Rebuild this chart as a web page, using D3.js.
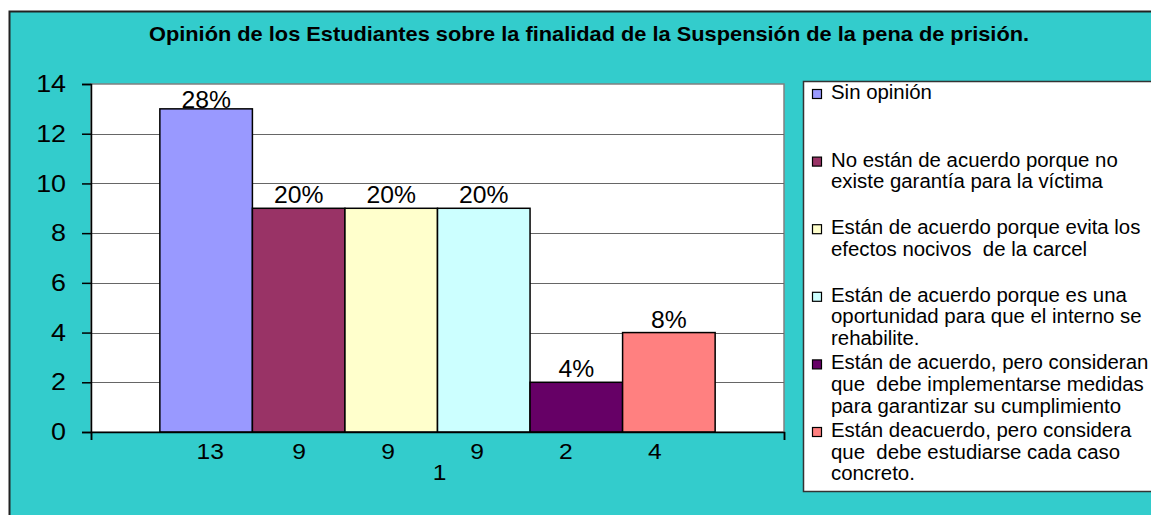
<!DOCTYPE html>
<html>
<head>
<meta charset="utf-8">
<script src="https://cdn.jsdelivr.net/npm/d3@7"></script>
<style>
  html, body { margin: 0; padding: 0; background: #ffffff; }
  svg { display: block; }
  text { font-family: "Liberation Sans", Arial, sans-serif; }
</style>
</head>
<body>
<svg id="chart" width="1151" height="515"></svg>
<script>
const title = "Opinión de los Estudiantes sobre la finalidad de la Suspensión de la pena de prisión.";
const categories = ["1"];
const seriesLabels = [
  ["Sin opinión"],
  ["No están de acuerdo porque no", "existe garantía para la víctima"],
  ["Están de acuerdo porque evita los", "efectos nocivos  de la carcel"],
  ["Están de acuerdo porque es una", "oportunidad para que el interno se", "rehabilite."],
  ["Están de acuerdo, pero consideran", "que  debe implementarse medidas", "para garantizar su cumplimiento"],
  ["Están deacuerdo, pero considera", "que  debe estudiarse cada caso", "concreto."]
];
const values = [13, 9, 9, 9, 2, 4];
const percentLabels = ["28%", "20%", "20%", "20%", "4%", "8%"];
const colors = ["#9999FF", "#993366", "#FFFFCC", "#CCFFFF", "#660066", "#FF8080"];
const yTicks = [0, 2, 4, 6, 8, 10, 12, 14];

const svg = d3.select("#chart");
const W = 1151, H = 515;
const plot = { left: 91, right: 784, top: 84, bottom: 432 };
const SX = 1.12; // horizontal stretch of the original rendering

// chart background
svg.append("rect").attr("x", 9.5).attr("y", 11.5).attr("width", W).attr("height", H)
  .attr("fill", "#33CCCC").attr("stroke", "#222").attr("stroke-width", 2);

// title
svg.append("text").attr("transform", `translate(589,41) scale(1.09,1)`).attr("text-anchor", "middle")
  .attr("font-size", 20).attr("font-weight", "bold").attr("fill", "#000").text(title);

const y = d3.scaleLinear().domain([0, 14]).range([plot.bottom, plot.top]);
const x0 = d3.scaleBand().domain(categories).range([plot.left, plot.right]).paddingInner(0).paddingOuter(0.124);
const x1 = d3.scaleBand().domain(d3.range(values.length)).range([0, x0.bandwidth()]);

// plot area
svg.append("rect").attr("x", plot.left).attr("y", plot.top)
  .attr("width", plot.right - plot.left).attr("height", plot.bottom - plot.top)
  .attr("fill", "#ffffff").attr("stroke", "#808080").attr("stroke-width", 1.5);

// gridlines
svg.append("g").selectAll("line").data(yTicks.filter(d => d > 0 && d < 14)).join("line")
  .attr("x1", plot.left).attr("x2", plot.right)
  .attr("y1", d => Math.round(y(d)) + 0.5).attr("y2", d => Math.round(y(d)) + 0.5)
  .attr("stroke", "#666").attr("stroke-width", 1.2);

// bars
const g = svg.append("g");
categories.forEach(cat => {
  g.selectAll("rect.bar").data(values).join("rect").attr("class", "bar")
    .attr("x", (d, i) => x0(cat) + x1(i))
    .attr("y", d => y(d))
    .attr("width", x1.bandwidth())
    .attr("height", d => y(0) - y(d))
    .attr("fill", (d, i) => colors[i])
    .attr("stroke", "#000").attr("stroke-width", 1.5);

  // percent labels
  g.selectAll("text.pct").data(values).join("text").attr("class", "pct")
    .attr("transform", (d, i) => `translate(${x0(cat) + x1(i) + x1.bandwidth() / 2},${Math.max(y(d) - 5, y(14) + 24)}) scale(1.03,1)`)
    .attr("text-anchor", "middle").attr("font-size", 24).attr("fill", "#000")
    .text((d, i) => percentLabels[i]);

  // value labels below axis
  const c0 = x0(cat) + x1(0) + x1.bandwidth() / 2;
  const c5 = x0(cat) + x1(values.length - 1) + x1.bandwidth() / 2;
  const xl = d3.scalePoint().domain(d3.range(values.length)).range([c0 + 4, c5 - 14]);
  g.selectAll("text.val").data(values).join("text").attr("class", "val")
    .attr("transform", (d, i) => `translate(${xl(i)},459) scale(${SX},1)`)
    .attr("text-anchor", "middle").attr("font-size", 22).attr("fill", "#000")
    .text(d => d);

  g.append("text").attr("transform", `translate(${x0(cat) + x0.bandwidth() / 2 + 2},480) scale(${SX},1)`)
    .attr("text-anchor", "middle").attr("font-size", 22).attr("fill", "#000").text(cat);
});

// y axis
const yAxis = svg.append("g").attr("transform", `translate(${plot.left},0)`)
  .call(d3.axisLeft(y).tickValues(yTicks).tickSize(9).tickPadding(13.3).tickFormat(d3.format("d")));
yAxis.select(".domain").attr("stroke", "#000").attr("stroke-width", 1.5);
yAxis.selectAll(".tick line").attr("stroke", "#000").attr("stroke-width", 1.5);
yAxis.selectAll(".tick text").attr("font-size", 24).attr("fill", "#000")
  .attr("transform", `scale(${SX},1)`)
  .attr("font-family", "Liberation Sans, Arial, sans-serif");

// x axis
const xl2 = d3.scaleLinear().domain([0, 1]).range([plot.left, plot.right]);
const xAxis = svg.append("g").attr("transform", `translate(0,${plot.bottom})`)
  .call(d3.axisBottom(xl2).tickValues([0, 1]).tickSize(8).tickFormat(""));
xAxis.select(".domain").attr("stroke", "#000").attr("stroke-width", 1.5);
xAxis.selectAll(".tick line").attr("stroke", "#000").attr("stroke-width", 1.5);

// legend
const leg = svg.append("g");
leg.append("rect").attr("x", 803.5).attr("y", 81.5).attr("width", 360).attr("height", 410)
  .attr("fill", "#ffffff").attr("stroke", "#333").attr("stroke-width", 1.5);
const legStep = 67.6, lineH = 21.7, firstBase = 99;
seriesLabels.forEach((lines, i) => {
  const base = firstBase + i * legStep;
  leg.append("rect").attr("x", 812.5).attr("y", base - 9.5).attr("width", 9).attr("height", 9)
    .attr("fill", colors[i]).attr("stroke", "#000").attr("stroke-width", 1.2);
  const t = leg.append("text").attr("transform", `translate(831,0) scale(1.02,1)`)
    .attr("font-size", 20).attr("fill", "#000");
  lines.forEach((ln, j) => {
    t.append("tspan").attr("x", 0).attr("y", base + j * lineH).attr("xml:space", "preserve").text(ln);
  });
});
</script>
</body>
</html>
